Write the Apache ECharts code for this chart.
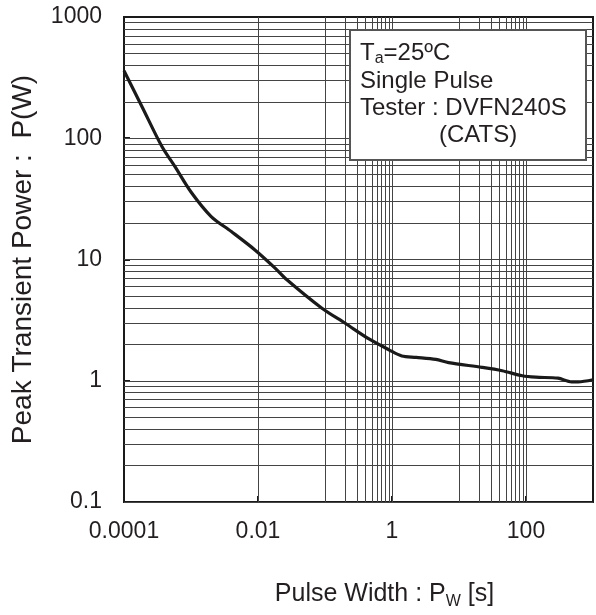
<!DOCTYPE html>
<html>
<head>
<meta charset="utf-8">
<script src="https://cdn.jsdelivr.net/npm/echarts@6/dist/echarts.min.js"></script>
<style>
html, body { margin: 0; padding: 0; background: #fff; }
#chart { width: 596px; height: 615px; }
</style>
</head>
<body>
<div id="chart"></div>
<script>
// single pulse curve
var pulseWidth = [0.0001, 0.000185, 0.00037, 0.00058, 0.001, 0.002, 0.004, 0.009, 0.018, 0.027,
    0.09, 0.2, 0.46, 0.9, 1.4, 2.3, 4.5, 7, 22, 44, 88, 140, 300, 480, 600, 1000];
var peakPower = [360, 183, 85, 58, 36, 22.6, 17, 12, 8.5, 6.8,
    3.96, 2.98, 2.2, 1.8, 1.6, 1.56, 1.5, 1.41, 1.29, 1.21, 1.10, 1.07, 1.05, 0.98, 0.98, 1.02];

var xTickLabels = [0.0001, 0.01, 1, 100];
var yTickLabels = [0.1, 1, 10, 100, 1000];
// vertical lines at every decade, minor lines only inside these decades
var xDecades = [0.001, 0.01, 0.1, 1, 10, 100];
var xMinorDecades = [0.001, 0.1, 10];
var yDecades = [0.1, 1, 10, 100];

var font = 'Liberation Sans, Arial, Helvetica, sans-serif';

var gridLines = [];
xDecades.forEach(function (d) { gridLines.push({ xAxis: d }); });
xMinorDecades.forEach(function (d) {
    for (var k = 2; k < 10; k++) gridLines.push({ xAxis: +(d * k).toPrecision(3) });
});
yDecades.forEach(function (d) {
    for (var k = 1; k < 10; k++) gridLines.push({ yAxis: +(d * k).toPrecision(3) });
});

function decadeLabel(v) {
    var e = Math.round(Math.log10(v));
    return e < 0 ? Math.pow(10, e).toFixed(-e) : String(Math.pow(10, e));
}

var chart = echarts.init(document.getElementById('chart'));
var option = {
    animation: false,
    grid: {
        left: 124, right: 2, top: 17, bottom: 113,
        show: true,
        borderColor: '#1a1a1a',
        borderWidth: 2,
        backgroundColor: '#fff'
    },
    xAxis: {
        type: 'log',
        logBase: 100,
        min: 0.0001,
        max: 1000,
        splitNumber: 3,
        name: 'Pulse Width : P{s|W} [s]',
        nameLocation: 'middle',
        nameGap: 80,
        nameTextStyle: {
            fontFamily: font, fontSize: 25, color: '#231f20',
            padding: [0, 0, 0, 52],
            rich: { s: { fontFamily: font, fontSize: 16, color: '#231f20', padding: [14, 0, 0, 0], lineHeight: 16 } }
        },
        axisLine: { show: true, lineStyle: { color: '#1a1a1a', width: 2 } },
        axisTick: { show: true, inside: true, length: 6, lineStyle: { color: '#1a1a1a', width: 2 } },
        axisLabel: {
            fontFamily: font, fontSize: 23, color: '#231f20', margin: 18,
            formatter: function (v) {
                var s = decadeLabel(v);
                return xTickLabels.indexOf(+s) >= 0 ? s : '';
            }
        },
        splitLine: { show: false },
        minorTick: { show: false }
    },
    yAxis: {
        type: 'log',
        logBase: 10,
        min: 0.1,
        max: 1000,
        name: 'Peak Transient Power :  P(W)',
        nameLocation: 'middle',
        nameGap: 87,
        nameTextStyle: { fontFamily: font, fontSize: 28, color: '#231f20' },
        axisLine: { show: true, lineStyle: { color: '#1a1a1a', width: 2 } },
        axisTick: { show: true, inside: true, length: 6, lineStyle: { color: '#1a1a1a', width: 2 } },
        axisLabel: {
            fontFamily: font, fontSize: 23, color: '#231f20', margin: 22,
            formatter: function (v) {
                var s = decadeLabel(v);
                return yTickLabels.indexOf(+s) >= 0 ? s : '';
            }
        },
        splitLine: { show: false }
    },
    graphic: [
        {
            type: 'rect', z: 100,
            shape: { x: 350, y: 30, width: 236, height: 130 },
            style: { fill: '#fff', stroke: '#555', lineWidth: 2 }
        },
        {
            type: 'text', z: 101, x: 360, y: 53,
            style: {
                text: '{b|T}{s|a}{b|=25ºC}', verticalAlign: 'middle',
                rich: {
                    b: { fontFamily: font, fontSize: 24, lineHeight: 27, fill: '#231f20' },
                    s: { fontFamily: font, fontSize: 16, lineHeight: 15, padding: [12, 0, 0, 0], fill: '#231f20' }
                }
            }
        },
        {
            type: 'text', z: 101, x: 360, y: 81,
            style: { text: 'Single Pulse', font: '24px ' + font, fill: '#231f20', verticalAlign: 'middle' }
        },
        {
            type: 'text', z: 101, x: 360, y: 108,
            style: { text: 'Tester : DVFN240S', font: '24px ' + font, fill: '#231f20', verticalAlign: 'middle' }
        },
        {
            type: 'text', z: 101, x: 439, y: 135,
            style: { text: '(CATS)', font: '24px ' + font, fill: '#231f20', verticalAlign: 'middle' }
        }
    ],
    series: [
        {
            // grid lines drawn through the axes
            type: 'line',
            data: [],
            z: 1,
            silent: true,
            markLine: {
                silent: true,
                symbol: 'none',
                animation: false,
                label: { show: false },
                emphasis: { disabled: true },
                lineStyle: { color: '#444', width: 1, type: 'solid' },
                data: gridLines
            }
        },
        {
            type: 'line',
            z: 5,
            data: pulseWidth.map(function (x, i) { return [x, peakPower[i]]; }),
            smooth: 0.3,
            showSymbol: false,
            lineStyle: { color: '#1a1a1a', width: 3.2 }
        }
    ]
};
chart.setOption(option);
</script>
</body>
</html>
